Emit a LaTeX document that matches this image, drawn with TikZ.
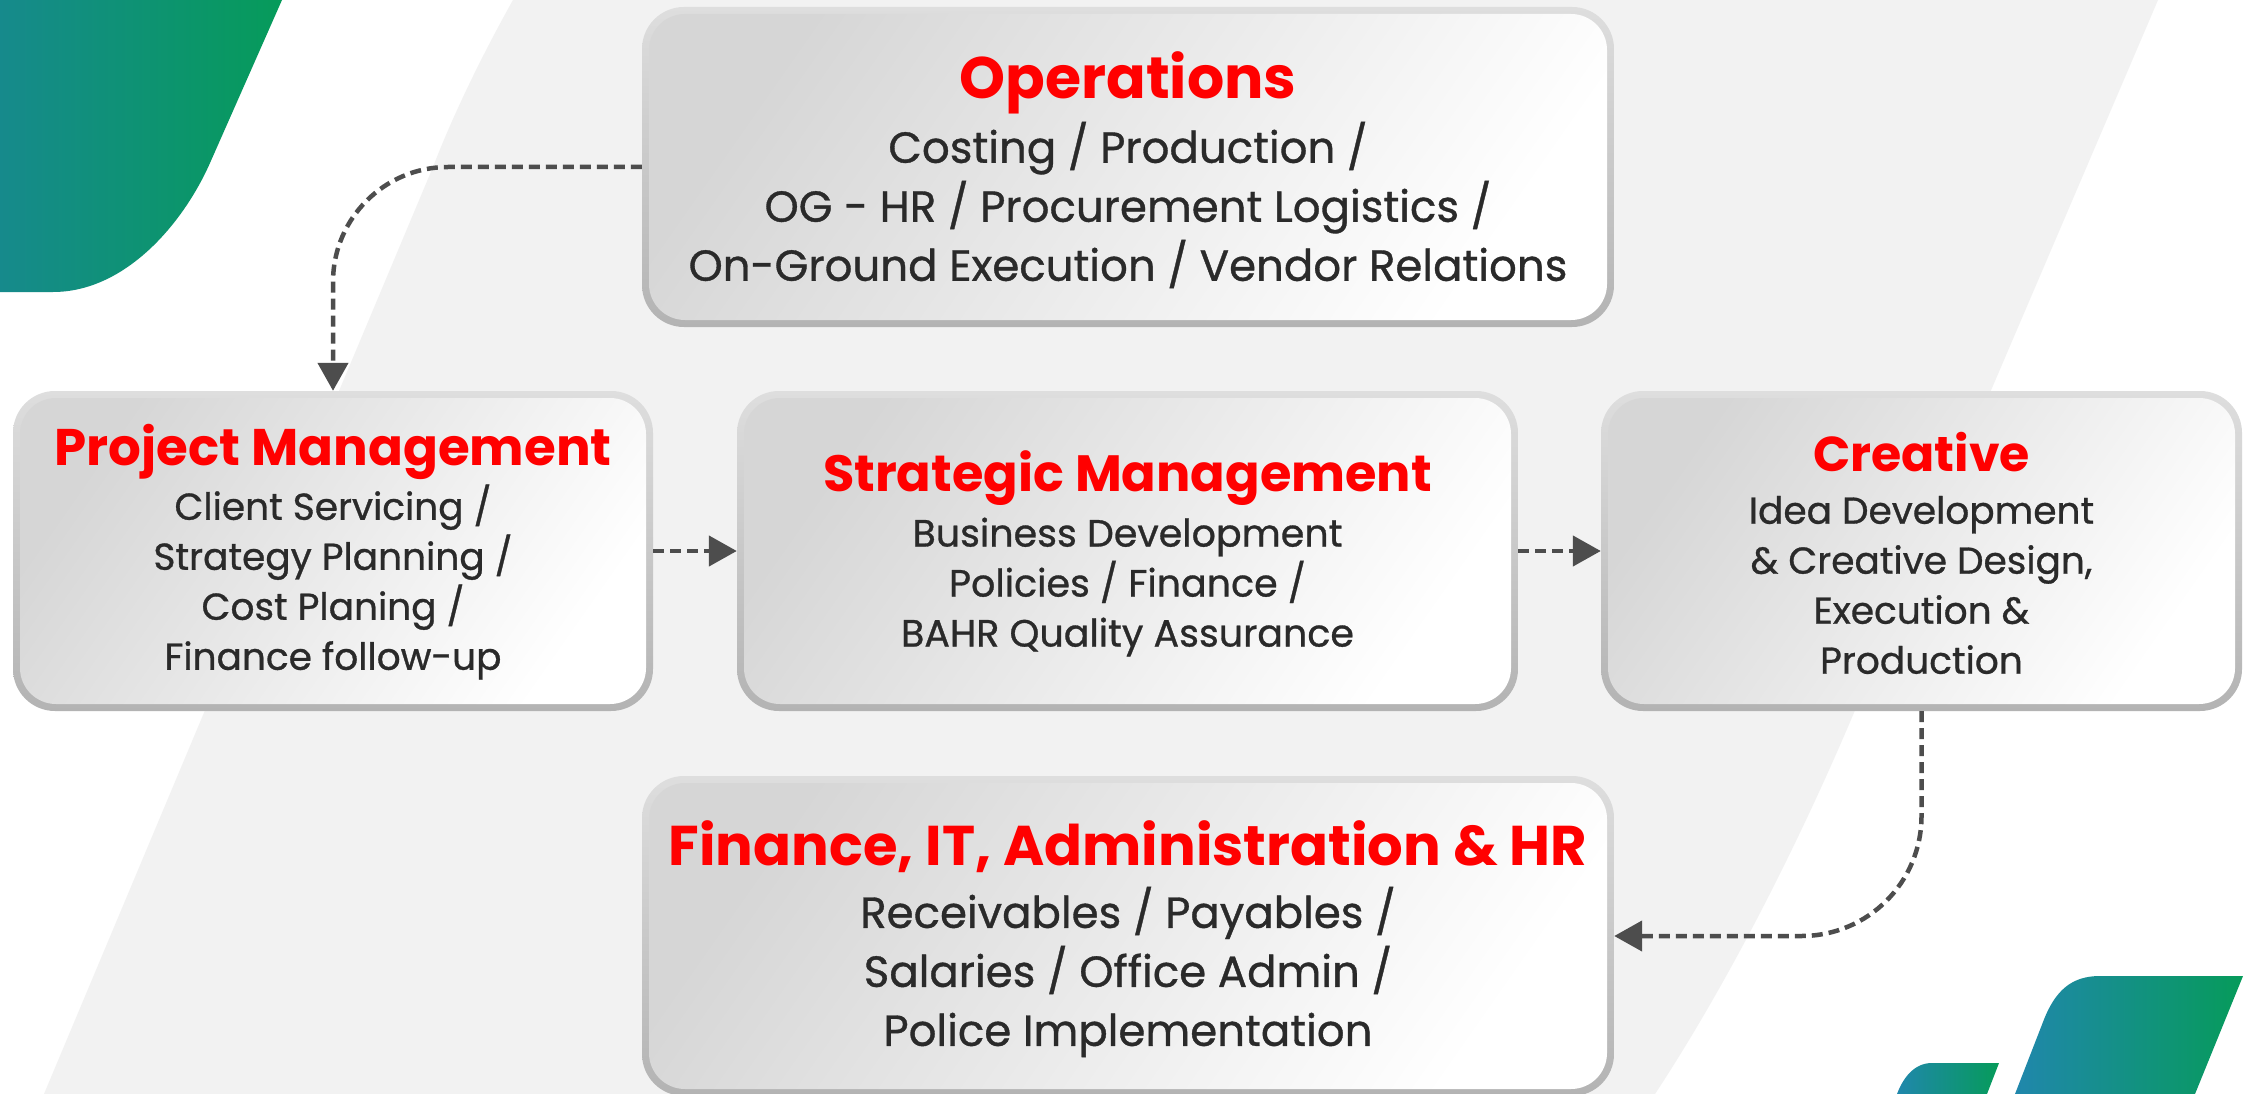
\documentclass[tikz,border=0pt]{standalone}
\usepackage{fontspec}
\setmainfont{Poppins}
\newfontfamily\bodyfont[FakeBold=0.8]{Poppins}
\usetikzlibrary{arrows.meta}
\definecolor{bandgray}{HTML}{F2F2F2}
\definecolor{rimtop}{HTML}{DEDEDE}
\definecolor{rimbot}{HTML}{B3B3B3}
\definecolor{filldark}{HTML}{D6D6D6}
\definecolor{titlered}{HTML}{FF0000}
\definecolor{bodytext}{HTML}{2A2A2A}
\definecolor{arrowc}{HTML}{4D4D4D}
\definecolor{tealA}{HTML}{168A8C}
\definecolor{greenB}{HTML}{069B5A}
\definecolor{blueA}{HTML}{2087AC}
\tikzset{
  outerbox/.style={rectangle, rounded corners=42pt, inner sep=0pt, top color=rimtop, bottom color=rimbot},
  innerbox/.style={rectangle, rounded corners=36pt, inner sep=0pt, top color=filldark, bottom color=white, shading angle=55},
  titletext/.style={text=titlered, inner sep=0pt, font=\fontsize{#1}{#1}\selectfont\bfseries},
  bodytextstyle/.style={text=bodytext, inner sep=0pt, align=center},
  conn/.style={draw=arrowc, line width=4.5pt, dash pattern=on 11pt off 6pt, -{Triangle[length=28pt,width=30pt]}}
}
\begin{document}
\begin{tikzpicture}[x=1pt,y=-1pt]
\path[use as bounding box, fill=white] (0,0) rectangle (2252,1094);
% background band
\fill[bandgray] (44,1094) -- (433,167) .. controls (455,110) and (485,50) .. (513,0) -- (2158,0) -- (1992,388) -- (1853,715) .. controls (1800,840) and (1730,980) .. (1655,1094) -- cycle;
% corner decorations
\shade[left color=tealA, right color=greenB] (0,0) -- (282,0) -- (210,163) .. controls (183,224) and (125,292) .. (53,292) -- (0,292) -- cycle;
\shade[left color=blueA, right color=greenB] (2015,1094) -- (2043,1022) .. controls (2055,990) and (2072,976) .. (2100,976) -- (2243,976) -- (2195,1094) -- cycle;
\shade[left color=blueA, right color=greenB] (1897,1094) .. controls (1903,1078) and (1914,1063) .. (1932,1063) -- (1999,1063) -- (1987,1094) -- cycle;

% boxes
\node[outerbox, minimum width=972pt, minimum height=320pt] (ops) at (1128,167) {};
\node[innerbox, minimum width=958pt, minimum height=306pt] at (ops.center) {};
\node[outerbox, minimum width=640pt, minimum height=320pt] (pm) at (333,551) {};
\node[innerbox, minimum width=626pt, minimum height=306pt] at (pm.center) {};
\node[outerbox, minimum width=781pt, minimum height=320pt] (sm) at (1127.5,551) {};
\node[innerbox, minimum width=767pt, minimum height=306pt] at (sm.center) {};
\node[outerbox, minimum width=641pt, minimum height=320pt] (cr) at (1921.5,551) {};
\node[innerbox, minimum width=627pt, minimum height=306pt] at (cr.center) {};
\node[outerbox, minimum width=972pt, minimum height=320pt] (fin) at (1128,936) {};
\node[innerbox, minimum width=958pt, minimum height=306pt] at (fin.center) {};

% texts
\node[titletext=58.5] (opsT) at (1128,83) {Operations};
\node[bodytextstyle, font=\bodyfont\fontsize{43.5}{59}\selectfont] (opsB) at (1128,205) {Costing / Production /\\OG - HR / Procurement Logistics /\\On-Ground Execution / Vendor Relations};
\node[titletext=51.5] (pmT) at (333,452) {Project Management};
\node[bodytextstyle, font=\bodyfont\fontsize{37.5}{50}\selectfont] (pmB) at (333,582) {Client Servicing /\\Strategy Planning /\\Cost Planing /\\Finance follow-up};
\node[titletext=51] (smT) at (1127.5,478) {Strategic Management};
\node[bodytextstyle, font=\bodyfont\fontsize{38}{50}\selectfont] (smB) at (1127.5,587) {Business Development\\Policies / Finance /\\BAHR Quality Assurance};
\node[titletext=49] (crT) at (1921.5,452) {Creative};
\node[bodytextstyle, font=\bodyfont\fontsize{37.5}{50}\selectfont] (crB) at (1921.5,585) {Idea Development\\\& Creative Design,\\Execution \&\\Production};
\node[titletext=56] (finT) at (1128,847) {Finance, IT, Administration \& HR};
\node[bodytextstyle, font=\bodyfont\fontsize{43.5}{59}\selectfont] (finB) at (1128,972) {Receivables / Payables /\\Salaries / Office Admin /\\Police Implementation};

% connectors
\draw[conn, rounded corners=115pt] (ops.west) -| (pm.north);
\draw[conn] (pm.east) -- (sm.west);
\draw[conn] (sm.east) -- (cr.west);
\draw[conn, rounded corners=120pt] (cr.south) |- (fin.east);
\end{tikzpicture}
\end{document}
